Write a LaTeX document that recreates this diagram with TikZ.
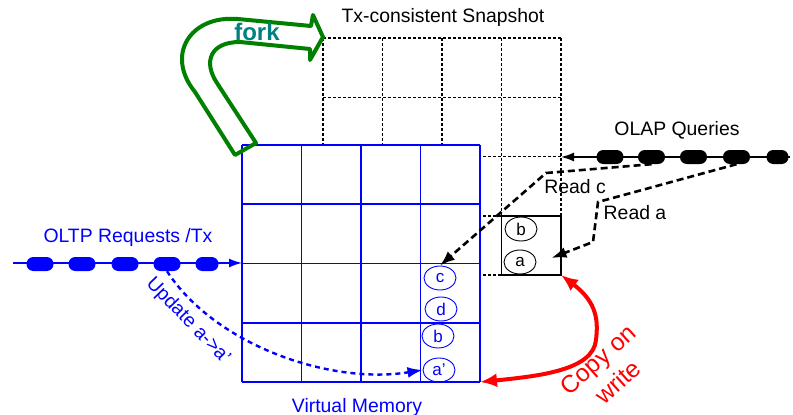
\documentclass[tikz,border=0pt]{standalone}
\usepackage{fontspec}
\setmainfont{Liberation Sans}
\usetikzlibrary{arrows.meta,shapes.geometric,calc}
\definecolor{vmblue}{RGB}{0,0,255}
\definecolor{forkgreen}{RGB}{0,128,0}
\definecolor{forkteal}{RGB}{0,128,128}
\definecolor{cowred}{RGB}{255,0,0}
\begin{document}
\begin{tikzpicture}[x=1pt,y=-1pt,
  lbl/.style={font=\fontsize{19.4}{23}\selectfont, inner sep=0pt, anchor=base},
  dotgrid/.style={black, line width=1.5pt, dash pattern=on 3pt off 2pt},
  vmgrid/.style={vmblue, line width=1.6pt},
  ell/.style={ellipse, draw, line width=0.9pt, minimum width=32pt, minimum height=24pt, inner sep=0pt, font=\fontsize{17}{20}\selectfont},
  blob/.style={rectangle, rounded corners=6.8pt, minimum width=27pt, minimum height=14pt, inner sep=0pt},
  rdash/.style={black, line width=2.6pt, dash pattern=on 7pt off 4pt, -{Latex[length=15pt,width=11pt]}},
  udash/.style={vmblue, line width=2.4pt, dash pattern=on 5pt off 4pt, -{Latex[length=15pt,width=11pt]}}
]
\useasboundingbox (0,0) rectangle (793,415);
% snapshot grid (dotted)
\foreach \i in {0,...,4} {
  \draw[dotgrid] ({323+59.5*\i},38) -- ({323+59.5*\i},275);
  \draw[dotgrid] (323,{38+59.25*\i}) -- (561,{38+59.25*\i});
}
\coordinate (snapSE) at (561,275);
\draw[black, line width=1.8pt] (501.5,215.75) rectangle (561,275);
% virtual memory grid
\fill[white] (242,145) rectangle (480,382);
\foreach \i in {0,...,4} {
  \draw[vmgrid] ({242+59.5*\i},145) -- ({242+59.5*\i},382);
  \draw[vmgrid] (242,{145+59.25*\i}) -- (480,{145+59.25*\i});
}
\coordinate (vmW) at (242,263);
\coordinate (vmSE) at (480,382);
% ellipses
\node[ell] (bB) at (521,229) {b};
\node[ell] (aB) at (520,262) {a};
\node[ell, vmblue, text=vmblue] (cV) at (440,278) {c};
\node[ell, vmblue, text=vmblue] (dV) at (441,309) {d};
\node[ell, vmblue, text=vmblue] (bV) at (438,336) {b};
\node[ell, vmblue, text=vmblue] (apV) at (439,370) {a'};
% OLTP stream
\coordinate (oStart) at (13,263);
\draw[vmblue, line width=1.5pt, -{Latex[length=13pt,width=9pt]}] (oStart) -- (vmW);
\node[blob, fill=vmblue] (o1) at (40,264) {};
\node[blob, fill=vmblue] (o2) at (82,264) {};
\node[blob, fill=vmblue] (o3) at (125,264) {};
\node[blob, fill=vmblue] (o4) at (167,264) {};
\node[blob, fill=vmblue, minimum width=23pt] (o5) at (207,264) {};
\node[lbl, text=vmblue] (oltp) at (128,242) {OLTP Requests /Tx};
% OLAP stream
\coordinate (qStart) at (790,157);
\coordinate (qEnd) at (561,157);
\draw[black, line width=1.5pt, -{Latex[length=13pt,width=9pt]}] (qStart) -- (qEnd);
\node[blob, fill=black] (q1) at (610,157) {};
\node[blob, fill=black] (q2) at (651.5,157) {};
\node[blob, fill=black] (q3) at (693.5,157) {};
\node[blob, fill=black] (q4) at (736.5,157) {};
\node[blob, fill=black, minimum width=22pt] (q5) at (777.5,157) {};
\node[lbl] (olap) at (677,135) {OLAP Queries};
% reads
\draw[rdash] (q2.south) -- (546,173) -- (cV.north);
\draw[rdash] (q4.south) -- (598,202) -- (593,242) -- ($(aB.east)+(15,-4)$);
\node[lbl] (readc) at (575,193) {Read c};
\node[lbl] (reada) at (635,219) {Read a};
% update
\draw[udash] (o4.south) .. controls (215,345) and (330,385) .. (apV.west);
\node[font=\fontsize{19.4}{23}\selectfont, text=vmblue, inner sep=0pt, rotate=-46] (upd) at (188,321) {Update a->a'};
% copy on write
\draw[cowred, line width=4pt, {Latex[length=17pt,width=14pt]}-{Latex[length=17pt,width=14pt]}]
  (snapSE) .. controls (598,303) and (598,322) .. (596,340) .. controls (593,370) and (540,376) .. (vmSE);
\node[font=\fontsize{24.5}{30}\selectfont, text=cowred, align=center, inner sep=0pt, rotate=42] (cow) at (608,371) {Copy on\\write};
% labels
\node[lbl] (snap) at (443,23) {Tx-consistent Snapshot};
\node[lbl] (vm) at (357,412) {\textcolor{vmblue}{Virtual Memory}};
% fork arrow
\draw[forkgreen, line width=4pt, line join=round]
  (235,155) -- (256,143) -- (217,83) .. controls (203,62) and (210,42) .. (240,42)
  -- (310,49) -- (310,60) -- (323,37) -- (313,15) -- (311,26) -- (238,19)
  .. controls (190,15) and (165,55) .. (195,92) -- cycle;
\node[font=\bfseries\fontsize{24}{28}\selectfont, text=forkteal, inner sep=0pt, anchor=base] (fork) at (257,40) {fork};
\end{tikzpicture}
\end{document}
